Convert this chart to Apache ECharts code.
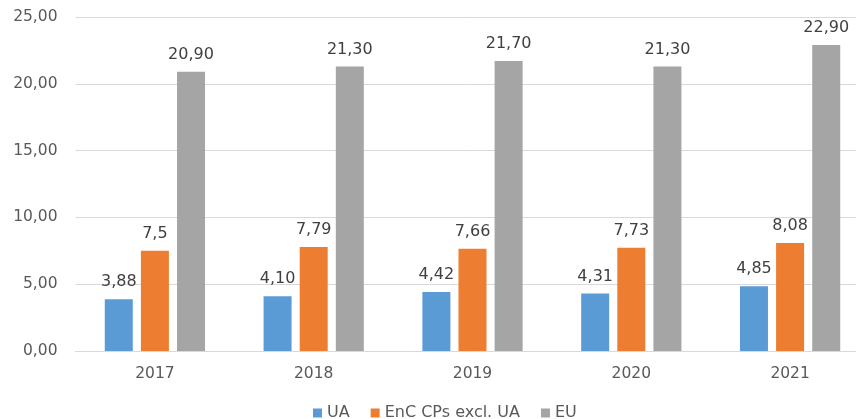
<!DOCTYPE html>
<html><head><meta charset="utf-8">
<script src="https://cdn.jsdelivr.net/npm/echarts@6/dist/echarts.min.js"></script>
<style>html,body{margin:0;padding:0;background:#fff}#c{width:856px;height:419px}</style>
</head><body><div id="c"></div>
<script>
const categories = ['2017','2018','2019','2020','2021'];
const seriesNames = ['UA','EnC CPs excl. UA','EU'];
const uaValues = [3.88, 4.10, 4.42, 4.31, 4.85];
const encValues = [7.5, 7.79, 7.66, 7.73, 8.08];
const euValues = [20.90, 21.30, 21.70, 21.30, 22.90];
const encLabels = ['7,5','7,79','7,66','7,73','8,08'];
const yTicks = [0, 5, 10, 15, 20, 25];

const FONT = 'DejaVu Sans';
const fmt2 = v => v.toFixed(2).replace('.', ',');
function labelCfg(fn){
  return {show:true, position:'top', distance:9, color:'#404040', fontFamily:FONT, fontSize:16, formatter:fn};
}
const chart = echarts.init(document.getElementById('c'));
chart.setOption({
  animation:false,
  textStyle:{fontFamily:FONT},
  grid:{left:75.5, width:794, top:17, height:334, containLabel:false, outerBoundsMode:'none'},
  legend:{top:405, left:313, padding:0, itemWidth:9, itemHeight:9, itemGap:21, icon:'rect',
    textStyle:{color:'#595959', fontFamily:FONT, fontSize:16, lineHeight:16}, data:seriesNames},
  xAxis:{type:'category', data:categories,
    axisLine:{lineStyle:{color:'#d9d9d9'}}, axisTick:{show:false},
    axisLabel:{color:'#595959', fontFamily:FONT, fontSize:15.5, margin:15}},
  yAxis:{type:'value', min:yTicks[0], max:yTicks[yTicks.length-1], interval:5,
    axisLine:{show:false}, axisTick:{show:false},
    splitLine:{lineStyle:{color:'#d9d9d9'}},
    axisLabel:{color:'#595959', fontFamily:FONT, fontSize:15.5, margin:18, formatter:v=>fmt2(v)}},
  series:[
    {name:seriesNames[0], type:'bar', data:uaValues, barWidth:28, barGap:'29%',
      itemStyle:{color:'#5b9bd5'}, label:labelCfg(p=>fmt2(p.value))},
    {name:seriesNames[1], type:'bar', data:encValues, barWidth:28, barGap:'29%',
      itemStyle:{color:'#ed7d31'}, label:labelCfg(p=>encLabels[p.dataIndex])},
    {name:seriesNames[2], type:'bar', data:euValues, barWidth:28, barGap:'29%',
      itemStyle:{color:'#a5a5a5'}, label:labelCfg(p=>fmt2(p.value))}
  ]
});
</script></body></html>
